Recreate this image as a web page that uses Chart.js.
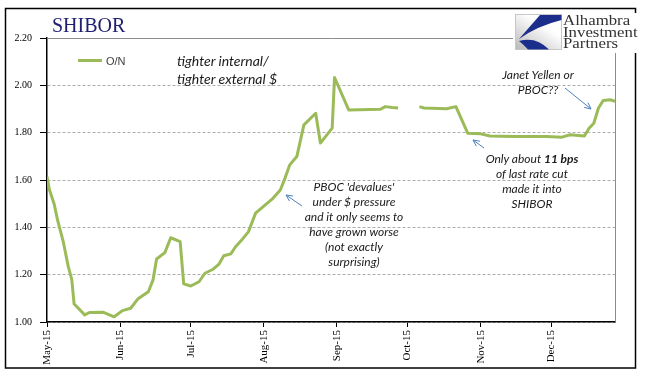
<!DOCTYPE html>
<html><head><meta charset="utf-8">
<script src="https://cdn.jsdelivr.net/npm/chart.js@4/dist/chart.umd.min.js"></script>
<style>
html,body{margin:0;padding:0;background:#fff;}
#wrap{position:relative;width:645px;height:379px;overflow:hidden;}
canvas{position:absolute;left:0;top:0;}
.a{position:absolute;white-space:nowrap;font-family:Lato,'Open Sans',sans-serif;font-style:italic;color:#1a1a1a;}
.c12{font-size:12px;line-height:15px;text-align:center;width:160px;}
</style></head><body>
<div id="wrap">
<canvas id="c" width="645" height="379"></canvas>
<div style="position:absolute;left:52px;top:15px;font-family:'Liberation Serif','Times New Roman',serif;font-size:20px;line-height:20px;color:#1f2070;">SHIBOR</div>
<div style="position:absolute;left:78px;top:59px;width:24px;height:3px;background:#9bbb59;"></div>
<div style="position:absolute;left:106px;top:55px;font-family:'Liberation Sans',Arial,sans-serif;font-size:11px;line-height:12px;color:#404040;">O/N</div>
<div class="a" style="left:177px;top:52px;font-size:14px;line-height:18px;">tighter internal/<br>tighter external $</div>
<div class="a c12" style="left:274px;top:179px;">PBOC 'devalues'<br>under $ pressure<br>and it only seems to<br>have grown worse<br>(not exactly<br>surprising)</div>
<div class="a c12" style="left:452px;top:151px;">Only about <b>11 bps</b><br>of last rate cut<br>made it into<br>SHIBOR</div>
<div class="a c12" style="left:458px;top:67px;">Janet Yellen or<br>PBOC??</div>
<div style="position:absolute;left:513px;top:13px;width:130px;height:40px;background:#fff;"></div>
<svg style="position:absolute;left:515px;top:14px;" width="48" height="37" viewBox="0 0 48 37">
<defs><linearGradient id="g" x1="0" y1="1" x2="0.6" y2="0.3"><stop offset="0" stop-color="#b8b8b8"/><stop offset="1" stop-color="#ffffff"/></linearGradient></defs>
<rect x="0.5" y="0.5" width="46" height="35" fill="url(#g)" stroke="#c8c8c8"/>
<path d="M25,1 L46.5,1 L46.5,6 Q22,12 4,25 Z" fill="#1c2e8c"/>
<path d="M4,27 Q21,22 34,35.5 L13,35.5 Q9,31 4,27 Z" fill="#1c2e8c"/>
</svg>
<div style="position:absolute;left:563px;top:15px;font-family:'Liberation Serif','Times New Roman',serif;font-size:15px;line-height:11.5px;color:#333;transform:scaleX(1.12);transform-origin:0 0;">Alhambra<br>Investment<br>Partners</div>
</div>
<script>
// Days counted from May 1, 2015
const monthDays = [0, 31, 61, 92, 123, 153, 184, 214];
const monthLabels = ['May-15','Jun-15','Jul-15','Aug-15','Sep-15','Oct-15','Nov-15','Dec-15'];
const yTicks = [1.00, 1.20, 1.40, 1.60, 1.80, 2.00, 2.20];
const dayOffsets = [0,1,3,4.5,7,9,10.5,11.5,14,16,18,24,28.5,32,35.5,38.5,43,45,46.5,50,52.5,56.5,58,61,64.5,67,70.5,73,75,78,80,82.5,85.5,88.5,91,95.5,99,101,103,106,109,114,116,121,122,128,141.5,143.5,146.5,149,153,158,160,169.5,173.5,176,178.5,184,188,198,212,218.5,222,228,230,232,234,236,239,241];
const onRates = [1.614,1.56,1.50,1.43,1.335,1.235,1.18,1.076,1.051,1.030,1.040,1.041,1.022,1.048,1.058,1.097,1.128,1.178,1.266,1.293,1.356,1.340,1.161,1.152,1.170,1.206,1.223,1.245,1.280,1.288,1.318,1.345,1.382,1.460,1.481,1.519,1.558,1.608,1.664,1.699,1.833,1.882,1.756,1.819,2.033,1.896,1.899,1.910,1.906,1.904,null,1.910,1.904,1.901,1.910,1.854,1.798,1.795,1.786,1.784,1.784,1.781,1.791,1.786,1.819,1.840,1.904,1.936,1.939,1.932];

const points = dayOffsets.map((d, i) => ({x: d, y: onRates[i]}));

const frame = {
  id: 'frame',
  beforeDraw(chart) {
    const ctx = chart.ctx;
    ctx.save();
    ctx.fillStyle = '#fff';
    ctx.fillRect(0, 0, chart.width, chart.height);
    ctx.strokeStyle = '#000';
    ctx.lineWidth = 1.5;
    ctx.strokeRect(5.5, 8.5, 630, 359.5);
    ctx.restore();
  },
  beforeDatasetsDraw(chart) {
    const {ctx, chartArea: a} = chart;
    ctx.save();
    ctx.strokeStyle = '#8c8c8c';
    ctx.lineWidth = 1;
    ctx.beginPath();
    ctx.moveTo(a.left, Math.round(a.top) + 0.5);
    ctx.lineTo(Math.round(a.right) + 0.5, Math.round(a.top) + 0.5);
    ctx.lineTo(Math.round(a.right) + 0.5, a.bottom);
    ctx.stroke();
    ctx.restore();
  },
  afterDraw(chart) {
    const ctx = chart.ctx;
    const arrow = (x1, y1, x2, y2) => {
      const ang = Math.atan2(y2 - y1, x2 - x1);
      const L = 7, w = 0.45;
      ctx.beginPath();
      ctx.moveTo(x1, y1); ctx.lineTo(x2, y2);
      ctx.moveTo(x2 - L * Math.cos(ang - w), y2 - L * Math.sin(ang - w));
      ctx.lineTo(x2, y2);
      ctx.lineTo(x2 - L * Math.cos(ang + w), y2 - L * Math.sin(ang + w));
      ctx.stroke();
    };
    ctx.save();
    ctx.strokeStyle = '#4f81bd';
    ctx.lineWidth = 1;
    arrow(302, 206, 286, 195);
    arrow(484, 148, 473, 140);
    arrow(565, 88, 591, 109);
    ctx.restore();
  }
};

new Chart(document.getElementById('c'), {
  type: 'line',
  data: {
    datasets: [{
      label: 'O/N',
      data: points,
      borderColor: '#9bbb59',
      borderWidth: 3,
      pointRadius: 0,
      tension: 0,
      spanGaps: false,
      borderJoinStyle: 'round'
    }]
  },
  options: {
    responsive: false,
    animation: false,
    devicePixelRatio: 1,
    layout: {padding: {left: 0, right: 30, top: 38, bottom: 0}},
    plugins: {legend: {display: false}, tooltip: {enabled: false}, title: {display: false}},
    scales: {
      x: {
        type: 'linear',
        min: 0,
        max: 241,
        afterFit(s) { s.height = 57; },
        afterBuildTicks(s) { s.ticks = monthDays.map(v => ({value: v})); },
        ticks: {
          autoSkip: false,
          maxRotation: 90,
          minRotation: 90,
          padding: 3,
          color: '#000',
          font: {family: "'Liberation Serif','Times New Roman',serif", size: 11},
          callback: (v) => monthLabels[monthDays.indexOf(v)]
        },
        grid: {drawOnChartArea: false, drawTicks: true, tickLength: 5, tickColor: '#000', tickWidth: 1},
        border: {display: true, color: '#000', width: 1.5}
      },
      y: {
        min: 1.0,
        max: 2.2,
        afterFit(s) { s.width = 47; },
        afterBuildTicks(s) { s.ticks = yTicks.map(v => ({value: v})); },
        ticks: {
          padding: 8,
          color: '#000',
          font: {family: "'Liberation Serif','Times New Roman',serif", size: 10},
          callback: (v) => Number(v).toFixed(2)
        },
        grid: {
          color: (c) => (c.tick && Math.abs(c.tick.value - 2.2) < 1e-6) ? 'rgba(0,0,0,0)' : '#adadad',
          lineWidth: 1,
          drawTicks: true,
          tickLength: 7,
          tickColor: '#000',
          tickWidth: 1,
          tickBorderDash: []
        },
        border: {display: true, color: '#000', width: 1.5, dash: [3, 2]}
      }
    }
  },
  plugins: [frame]
});
</script>
</body></html>
